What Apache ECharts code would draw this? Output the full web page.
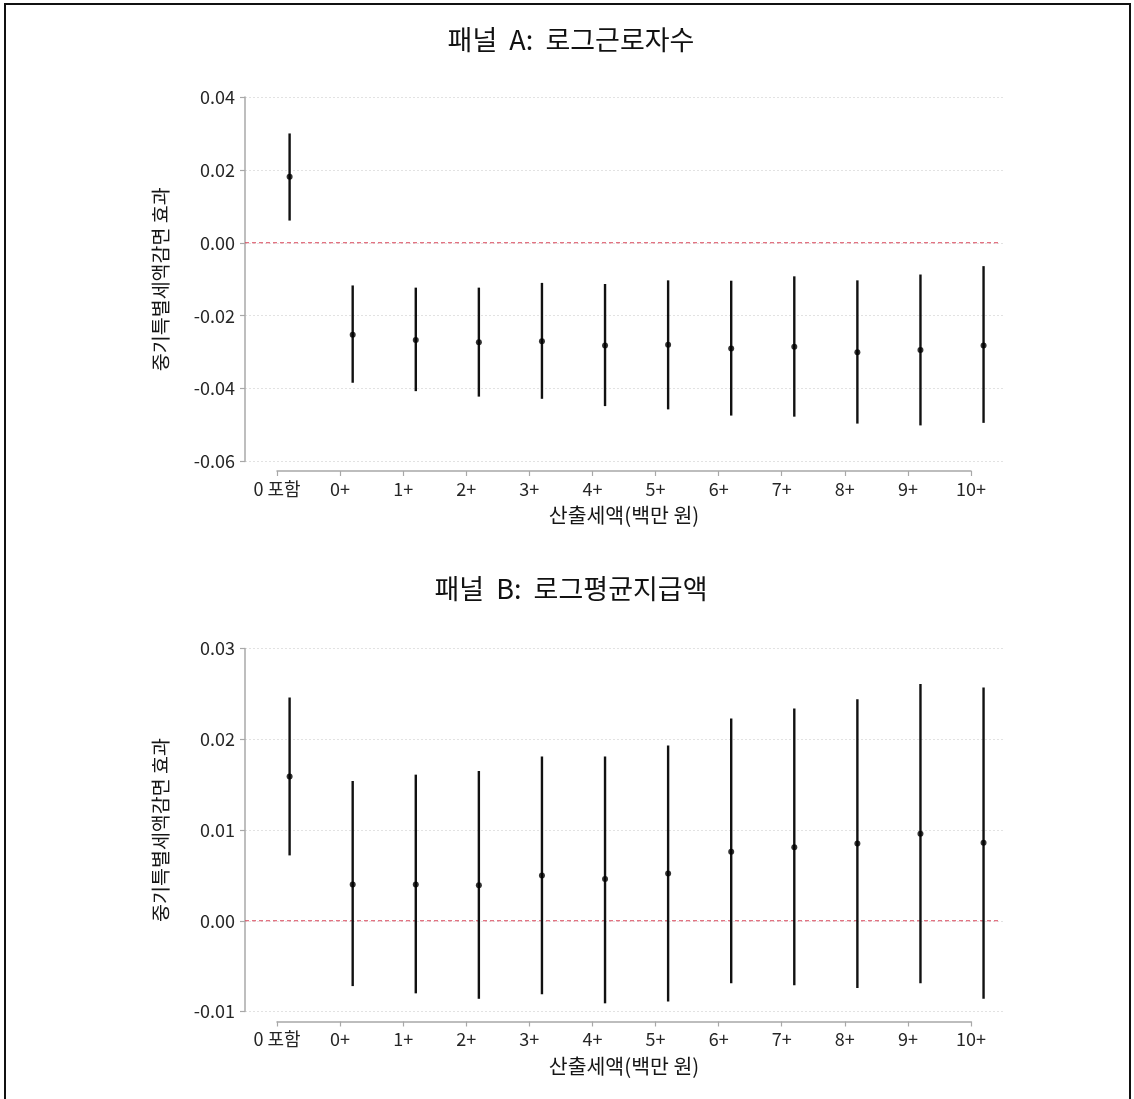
<!DOCTYPE html>
<html>
<head>
<meta charset="utf-8">
<script src="https://cdn.jsdelivr.net/npm/echarts@6/dist/echarts.min.js"></script>
<style>
  html, body { margin: 0; padding: 0; background: #fff; }
  #chart { width: 1134px; height: 1099px; }
</style>
</head>
<body>
<div id="chart"></div>
<script>
// Categories: tax-amount thresholds (million won)
const categories = ['0 포함', '0+', '1+', '2+', '3+', '4+', '5+', '6+', '7+', '8+', '9+', '10+'];

// Panel A: log number of workers — point estimates and 95% CI bounds
const empEst = [0.0181, -0.0252, -0.0267, -0.0273, -0.0270, -0.0282, -0.0280, -0.0290, -0.0285, -0.0300, -0.0294, -0.0282];
const empLo  = [0.0061, -0.0384, -0.0407, -0.0422, -0.0428, -0.0448, -0.0457, -0.0474, -0.0477, -0.0496, -0.0501, -0.0494];
const empHi  = [0.0300, -0.0117, -0.0123, -0.0123, -0.0110, -0.0113, -0.0103, -0.0104, -0.0092, -0.0103, -0.0087, -0.0064];

// Panel B: log average pay — point estimates and 95% CI bounds
const wageEst = [0.0159, 0.0040, 0.0040, 0.0039, 0.0050, 0.0046, 0.0052, 0.0076, 0.0081, 0.0085, 0.0096, 0.0086];
const wageLo  = [0.0072, -0.0072, -0.0080, -0.0086, -0.0081, -0.0091, -0.0089, -0.0069, -0.0071, -0.0074, -0.0069, -0.0086];
const wageHi  = [0.0246, 0.0154, 0.0161, 0.0165, 0.0181, 0.0181, 0.0193, 0.0223, 0.0234, 0.0244, 0.0261, 0.0257];

// Y-axis tick settings per panel
const empTicks  = { min: -0.06, max: 0.04, step: 0.02 };
const wageTicks = { min: -0.01, max: 0.03, step: 0.01 };

const panelTitles = ['패널  A:  로그근로자수', '패널  B:  로그평균지급액'];
const yTitle = '중기특별세액감면 효과';
const xTitle = '산출세액(백만 원)';

const FONT = '"Noto Sans CJK KR", "Noto Sans", sans-serif';
const SHIFT = 0.2;          // markers sit slightly right of each tick
const PLOT_MIN = -0.507, PLOT_MAX = 11.54;
const REF_VALUE = 0;        // horizontal reference (no effect)

const panels = [
  { est: empEst, lo: empLo, hi: empHi, ticks: empTicks, top: 97, height: 364.5, axisTop: 470, titleY: 40 },
  { est: wageEst, lo: wageLo, hi: wageHi, ticks: wageTicks, top: 648.5, height: 363, axisTop: 1020.5, titleY: 589 }
];

const grid = [], xAxis = [], yAxis = [], series = [], graphic = [];

panels.forEach((p, k) => {
  const gPlot = grid.length;
  grid.push({ left: 245, width: 760, top: p.top, height: p.height });
  grid.push({ left: 277, width: 694, top: p.axisTop, height: 1 });

  // hidden x scale used to place the marks
  xAxis.push({ gridIndex: gPlot, type: 'value', min: PLOT_MIN, max: PLOT_MAX, show: false });
  // visible category axis (offset below the plot)
  xAxis.push({
    gridIndex: gPlot + 1, type: 'value', min: 0, max: categories.length - 1, interval: 1,
    axisLine: { show: true, onZero: false, lineStyle: { color: '#a8a8a8', width: 1.5 } },
    axisTick: { show: true, length: 5, lineStyle: { color: '#a8a8a8', width: 1.2 } },
    splitLine: { show: false },
    axisLabel: { margin: 9, color: '#262626', fontSize: 18, fontFamily: FONT,
                 formatter: v => categories[Math.round(v)] ?? '' },
    name: xTitle, nameLocation: 'middle', nameGap: 34,
    nameTextStyle: { color: '#161616', fontSize: 20.5, fontFamily: FONT }
  });

  yAxis.push({
    gridIndex: gPlot, type: 'value', min: p.ticks.min, max: p.ticks.max, interval: p.ticks.step,
    axisLine: { show: true, onZero: false, lineStyle: { color: '#a8a8a8', width: 1.5 } },
    axisTick: { show: true, length: 5, lineStyle: { color: '#a8a8a8', width: 1.2 } },
    splitLine: { show: true, lineStyle: { color: '#e2e2e2', type: [2, 2], width: 1 } },
    axisLabel: { margin: 10, color: '#262626', fontSize: 18, fontFamily: FONT,
                 formatter: v => v.toFixed(2) },
    name: yTitle, nameLocation: 'middle', nameGap: 75, nameRotate: 90,
    nameTextStyle: { color: '#161616', fontSize: 19.5, fontFamily: FONT }
  });
  yAxis.push({ gridIndex: gPlot + 1, type: 'value', min: 0, max: 1, show: false });

  const xa = gPlot, ya = gPlot;

  // dashed red reference line across the plot area
  series.push({
    type: 'custom', xAxisIndex: xa, yAxisIndex: ya, silent: true,
    data: [[PLOT_MIN, REF_VALUE]],
    renderItem: (params, api) => {
      const cs = params.coordSys;
      const y = api.coord([api.value(0), api.value(1)])[1];
      return { type: 'line', shape: { x1: cs.x, y1: y, x2: cs.x + cs.width - 4, y2: y },
               style: { stroke: '#d9455a', lineWidth: 1.1, lineDash: [4, 3] } };
    },
    z: 2
  });

  // confidence intervals as vertical segments
  series.push({
    type: 'custom', xAxisIndex: xa, yAxisIndex: ya, silent: true,
    data: categories.map((c, i) => [i + SHIFT, p.lo[i], p.hi[i]]),
    renderItem: (params, api) => {
      const a = api.coord([api.value(0), api.value(2)]);
      const b = api.coord([api.value(0), api.value(1)]);
      return { type: 'line', shape: { x1: a[0], y1: a[1], x2: b[0], y2: b[1] },
               style: { stroke: '#111', lineWidth: 2.4 } };
    },
    z: 3
  });

  // point estimates
  series.push({
    type: 'scatter', xAxisIndex: xa, yAxisIndex: ya, silent: true,
    symbol: 'circle', symbolSize: 6, itemStyle: { color: '#000' },
    data: categories.map((c, i) => [i + SHIFT, p.est[i]]),
    z: 4
  });

  graphic.push({
    type: 'text', x: 571, y: p.titleY,
    style: { text: panelTitles[k], textAlign: 'center', textVerticalAlign: 'middle',
             font: '27px ' + FONT, fill: '#111' }
  });
});

// open frame around the figure
graphic.push({
  type: 'polyline',
  shape: { points: [[5, 1099], [5, 4], [1130, 4], [1130, 1099]] },
  style: { stroke: '#111', lineWidth: 2, fill: null }
});

const chart = echarts.init(document.getElementById('chart'), null, { renderer: 'canvas' });
chart.setOption({
  animation: false,
  backgroundColor: '#fff',
  grid, xAxis, yAxis, series, graphic
});
</script>
</body>
</html>
